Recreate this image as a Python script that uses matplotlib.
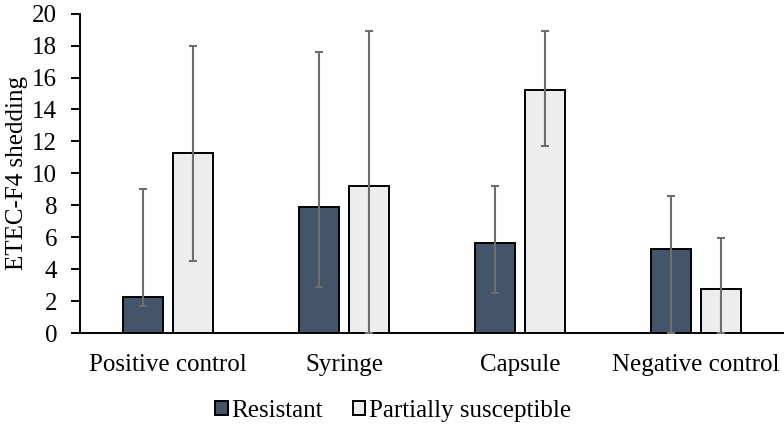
import matplotlib.pyplot as plt
import numpy as np

plt.rcParams['font.family'] = ['Liberation Serif', 'DejaVu Serif']

categories = ['Positive control', 'Syringe', 'Capsule', 'Negative control']
series = ['Resistant', 'Partially susceptible']
resistant = [2.25, 7.9, 5.65, 5.27]
resistant_lo = [1.7, 2.9, 2.5, 0.0]
resistant_hi = [9.05, 17.6, 9.2, 8.55]
partial = [11.3, 9.22, 15.25, 2.75]
partial_lo = [4.5, 0.0, 11.7, 0.0]
partial_hi = [18.0, 18.92, 18.92, 5.92]

colors = ['#44546A', '#EDEDED']

fig = plt.figure(figsize=(7.84, 4.26), dpi=100)
ax = fig.add_axes([80 / 784, 1 - 333 / 426, 704 / 784, (333 - 13.7) / 426])

x = np.arange(len(categories))
w = 0.227
off = 0.142
for vals, lo, hi, c, lab, d in [(resistant, resistant_lo, resistant_hi, colors[0], series[0], -off),
                                (partial, partial_lo, partial_hi, colors[1], series[1], off)]:
    vals = np.array(vals)
    yerr = [vals - np.array(lo), np.array(hi) - vals]
    ax.bar(x + d, vals, w, color=c, edgecolor='black', linewidth=1.4, label=lab, zorder=2)
    ax.errorbar(x + d, vals, yerr=yerr, fmt='none', ecolor='#6E6E6E', elinewidth=1.5,
                capsize=3, capthick=1.5, zorder=3)

ax.set_xlim(-0.5, 3.5)
ax.set_ylim(0, 20)
ax.set_yticks(range(0, 21, 2))
ax.set_xticks(x)
ax.set_xticklabels(categories)
ax.tick_params(axis='x', length=0, pad=15, labelsize=18)
ax.tick_params(axis='y', length=6.5, width=1.4, labelsize=18, pad=10)
for s in ['top', 'right']:
    ax.spines[s].set_visible(False)
ax.spines['left'].set_linewidth(1.4)
ax.spines['bottom'].set_linewidth(1.4)
ax.set_ylabel('ETEC-F4 shedding', fontsize=18, labelpad=3)

ax.legend(loc='center', bbox_to_anchor=(0.445, -0.245), ncol=2, frameon=False,
          fontsize=18, handlelength=0.5, handleheight=0.5, handletextpad=0.15,
          columnspacing=1.2, borderaxespad=0)

fig.savefig('out.png', dpi=100)
